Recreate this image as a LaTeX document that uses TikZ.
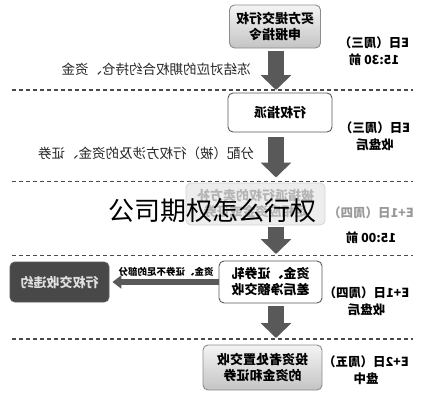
\documentclass[tikz,border=0pt]{standalone}
\usepackage{fontspec}
\usepackage{graphicx}
\setmainfont{Noto Sans CJK SC}
\usetikzlibrary{arrows.meta}
\definecolor{arr}{HTML}{595959}
\definecolor{sepgray}{HTML}{4A4A4A}
\definecolor{boxedge}{HTML}{8C8C8C}
\definecolor{gtop}{HTML}{F4F4F4}
\definecolor{gbot}{HTML}{C4C4C4}
\definecolor{darkedge}{HTML}{5A5A5A}
\definecolor{badfill}{HTML}{484848}
\definecolor{fadefill}{HTML}{EDEDED}
\definecolor{fadeedge}{HTML}{D6D6D6}
\definecolor{fadetext}{HTML}{B4B4B4}
\begin{document}
\begin{tikzpicture}[x=1pt,y=-1pt,
  mir/.style={xscale=-1},
  boxbase/.style={mir, rounded corners=5pt, align=center, inner sep=0pt,
    font=\bfseries\fontsize{13}{16}\selectfont, line width=0.9pt},
  graybox/.style={boxbase, draw=boxedge, top color=gtop, bottom color=gbot},
  whitebox/.style={boxbase, draw=darkedge, fill=white},
  badbox/.style={boxbase, draw=darkedge, fill=badfill, text=white!88!black},
  fadebox/.style={boxbase, draw=fadeedge, fill=fadefill, text=fadetext},
  timelab/.style={mir, align=center, inner sep=0pt,
    font=\bfseries\fontsize{12.5}{17}\selectfont},
  armlab/.style={mir, inner sep=0pt, font=\fontsize{13.5}{16}\selectfont, text=black!85},
  smalllab/.style={mir, inner sep=0pt, font=\bfseries\fontsize{9.5}{11}\selectfont},
  bigarrow/.style={draw=arr, line width=16pt, -{Triangle[width=30pt,length=15pt]}},
  sidearrow/.style={draw=arr, line width=6pt, -{Triangle[width=13pt,length=9pt]}},
  sepline/.style={draw=sepgray, line width=1.3pt, dash pattern=on 4pt off 3pt}
]
\fill[white] (0,0) rectangle (425,400);
\useasboundingbox (0,0) rectangle (425,400);

% separators
\coordinate (d1l) at (12,90);    \coordinate (d1r) at (413,90);
\coordinate (d2l) at (12,181.5); \coordinate (d2r) at (413,181.5);
\coordinate (d3l) at (12,255.5); \coordinate (d3r) at (413,255.5);
\coordinate (d4l) at (12,339);   \coordinate (d4r) at (413,339);
\draw[sepline] (d1l) -- (d1r);
\draw[sepline] (d2l) -- (d2r);
\draw[sepline] (d3l) -- (d3r);
\draw[sepline] (d4l) -- (d4r);
\coordinate (ax) at (276,0);

% boxes
\node[graybox, minimum width=91pt, minimum height=43pt] (box1) at (275,26.5) {买方提交行权\\申报指令};
\node[whitebox, minimum width=104pt, minimum height=39pt] (box2) at (280,112.5) {行权指派};
\node[fadebox, minimum width=139pt, minimum height=42pt] (box3) at (255.5,204) {被指派行权的卖方补\\足相应资金或证券};
\node[whitebox, minimum width=103pt, minimum height=42pt] (box4) at (270.5,282) {资金、证券轧\\差后净额交收};
\node[badbox, minimum width=99pt, minimum height=40pt] (bad) at (59.5,282) {行权交收违约};
\node[graybox, minimum width=119pt, minimum height=45pt] (box5) at (262.5,367.5) {投资者处置交收\\的资金和证券};

% time labels
\node[timelab] (t1) at (374,51) {E日（周三）\\15:30 前};
\node[timelab] (t2) at (375,136.5) {E日（周三）\\收盘后};
\node[timelab] (t3) at (371,225.5) {{\color{black!40}E+1日（周四）}\\[8pt]15:00 前};
\node[timelab] (t4) at (366.5,301.5) {E+1日（周四）\\收盘后};
\node[timelab] (t5) at (366,370.5) {E+2日（周五）\\盘中};

% arrow labels
\node[armlab] (l1) at (156,69) {冻结对应的期权合约持仓、资金};
\node[armlab] (l2) at (146,153) {分配（被）行权方涉及的资金、证券};
\node[smalllab] (l3) at (166,272) {资金、证券不足的部分};

% arrows
\draw[bigarrow] ([yshift=-3pt]box1.south -| ax) -- (d1l -| ax);
\draw[bigarrow] ([yshift=-5pt]box2.south -| ax) -- ([yshift=4pt]d2l -| ax);
\draw[bigarrow] ([yshift=-2pt]box3.south -| ax) -- ([yshift=1.5pt]d3l -| ax);
\draw[bigarrow] ([yshift=-3pt]box4.south -| ax) -- ([yshift=1pt]d4l -| ax);
\draw[sidearrow, shorten >=3pt] (box4) -- (bad);

% watermark
\node[inner sep=0pt, font=\fontsize{26}{30}\selectfont] (wm) at (212,211) {公司期权怎么行权};
\end{tikzpicture}
\end{document}
